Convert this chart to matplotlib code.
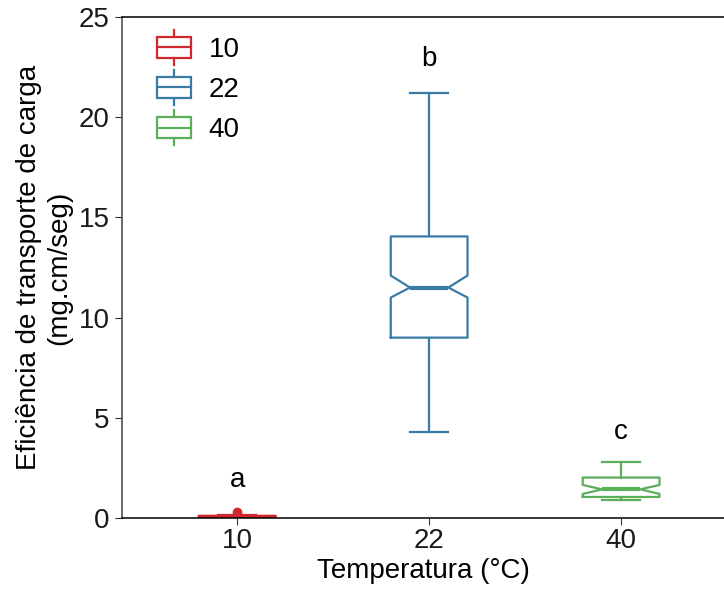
import matplotlib.pyplot as plt
from matplotlib.legend_handler import HandlerBase
from matplotlib.patches import Rectangle
from matplotlib.lines import Line2D

plt.rcParams['font.family'] = ['Liberation Sans', 'DejaVu Sans']

# summary values
groups = ['10', '22', '40']
colors = ['#D0282F', '#3A7BA5', '#5BAF59']
whislo = [0.0, 4.3, 0.9]
q1 = [0.01, 9.0, 1.05]
med = [0.06, 11.5, 1.43]
q3 = [0.11, 14.05, 2.02]
whishi = [0.14, 21.2, 2.78]
cilo = [0.04, 11.0, 1.2]
cihi = [0.08, 12.1, 1.65]
fliers = [[0.3], [], []]
letters = ['a', 'b', 'c']
letter_y = [1.9, 22.9, 4.3]

fig = plt.figure(figsize=(7.24, 5.90), dpi=100)
ax = fig.add_axes([122/724, 1 - 518/590, (724 - 122)/724, (518 - 17)/590])

for i, g in enumerate(groups):
    st = dict(med=med[i], q1=q1[i], q3=q3[i], whislo=whislo[i], whishi=whishi[i],
              cilo=cilo[i], cihi=cihi[i], fliers=fliers[i], label=g)
    c = colors[i]
    ax.bxp([st], positions=[i + 1], widths=0.4, capwidths=[0.2], shownotches=True,
           boxprops=dict(color=c, linewidth=1.6),
           whiskerprops=dict(color=c, linewidth=1.6),
           capprops=dict(color=c, linewidth=1.6),
           medianprops=dict(color=c, linewidth=3),
           flierprops=dict(marker='o', markerfacecolor=c, markeredgecolor=c, markersize=6),
           manage_ticks=False)
    ax.text(i + 1, letter_y[i], letters[i], ha='center', va='center', fontsize=20)

ax.set_xlim(0.4, 3.536)
ax.set_ylim(0, 25)
ax.set_xticks([1, 2, 3])
ax.set_xticklabels(groups)
ax.set_yticks([0, 5, 10, 15, 20, 25])
ax.tick_params(labelsize=20, length=5, pad=2, color='#333333', labelcolor='#1a1a1a')
ax.tick_params(axis='y', pad=4)
ax.spines['right'].set_visible(False)
for s in ['top', 'bottom']:
    ax.spines[s].set_color('black')
    ax.spines[s].set_linewidth(1.1)
ax.spines['left'].set_color('#444444')
ax.spines['left'].set_linewidth(1.1)

ax.set_xlabel('Temperatura (°C)', fontsize=20)
ax.xaxis.set_label_coords(0.5, -0.080)
ax.set_ylabel('Eficiência de transporte de carga\n(mg.cm/seg)', fontsize=20,
              linespacing=1.2)
ax.yaxis.set_label_coords(-0.083, 0.5)


class BoxHandler(HandlerBase):
    def create_artists(self, legend, orig_handle, xdescent, ydescent, width, height,
                       fontsize, trans):
        c = orig_handle.get_color()
        x0, w = width * 0.1, width * 0.8
        cx = x0 + w / 2
        box = Rectangle((x0, -height * 0.05), w, height * 1.1, fill=False,
                        edgecolor=c, linewidth=1.6, transform=trans)
        mid = Line2D([x0, x0 + w], [height * 0.5, height * 0.5], color=c, lw=1.6,
                     transform=trans)
        top = Line2D([cx, cx], [height * 1.05, height * 1.4], color=c, lw=1.6,
                     transform=trans)
        bot = Line2D([cx, cx], [-height * 0.05, -height * 0.4], color=c, lw=1.6,
                     transform=trans)
        return [box, mid, top, bot]


handles = [Line2D([], [], color=c) for c in colors]
ax.legend(handles, groups, handler_map={Line2D: BoxHandler()}, loc='upper left',
          bbox_to_anchor=(0.0515, 0.960), borderaxespad=0, borderpad=0,
          frameon=False, fontsize=20,
          handlelength=1.5, handletextpad=0.5, labelspacing=0.51)

fig.savefig('out.png', dpi=100)
